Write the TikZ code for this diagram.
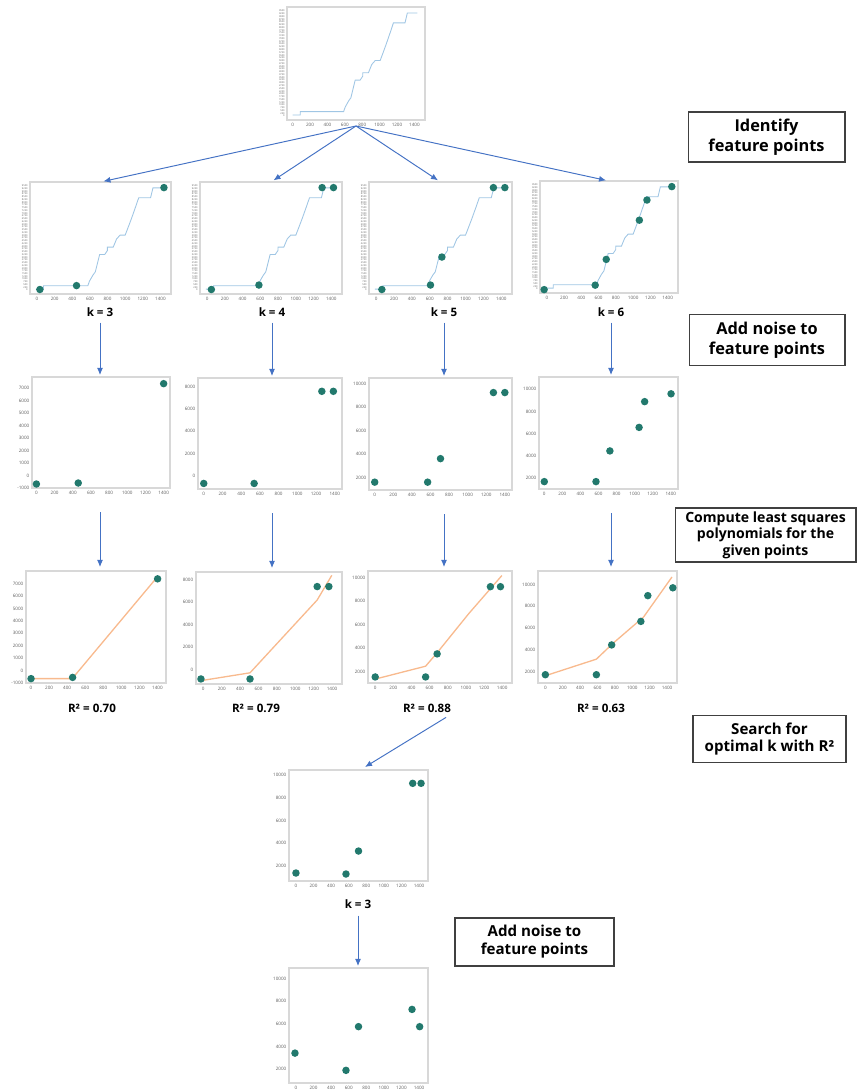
\documentclass[tikz,border=0pt]{standalone}
\usepackage{fontspec}
\setmainfont{Open Sans}
\usepackage{xcolor}
\usepackage{tikz}
\usetikzlibrary{arrows.meta}

\definecolor{arrowblue}{RGB}{68,114,196}
\definecolor{dotgreen}{RGB}{34,121,109}
\definecolor{stepblue}{RGB}{160,198,228}
\definecolor{fitorange}{RGB}{248,186,142}
\definecolor{framegray}{RGB}{216,216,216}
\definecolor{tickgray}{RGB}{95,95,95}
\definecolor{boxgray}{RGB}{64,64,64}

\tikzset{inplot/.style n args={4}{shift={(#1,#4)}, xscale=#3-#1, yscale=#2-#4}}

\begin{document}
\begin{tikzpicture}[x=0.02cm, y=-0.02cm]
        \tikzstyle{frame}=[draw=framegray, line width=0.9pt, inner sep=0pt, outer sep=0pt]
        \tikzstyle{dot}=[circle, fill=dotgreen, inner sep=0pt, minimum size=0.15cm]
        \tikzstyle{stepline}=[draw=stepblue, line width=0.5pt]
        \tikzstyle{fitline}=[draw=fitorange, line width=0.75pt]
        \tikzstyle{tick}=[inner sep=0.4pt, text=tickgray, font=\fontsize{2.6}{3}\selectfont]
        \tikzstyle{fine}=[inner sep=0.2pt, text=tickgray, font=\fontsize{1.4}{1.5}\selectfont]
        \tikzstyle{caption}=[inner sep=1pt, font=\bfseries\fontsize{6.6}{8}\selectfont]
        \tikzstyle{stage}=[draw=boxgray, line width=0.6pt, align=center, inner sep=0pt]
        \tikzstyle{arr}=[arrowblue, line width=0.55pt, -{Latex[length=4pt, width=3.4pt]}]

        \def\stepcurve{(0.041,0.044) -- (0.096,0.044) -- (0.096,0.074) -- (0.410,0.074)
            -- (0.422,0.115) -- (0.446,0.168) -- (0.463,0.197) -- (0.494,0.353)
            -- (0.530,0.353) -- (0.549,0.388) -- (0.549,0.418) -- (0.590,0.418)
            -- (0.614,0.491) -- (0.639,0.526) -- (0.675,0.526) -- (0.687,0.565)
            -- (0.718,0.668) -- (0.747,0.771) -- (0.771,0.859) -- (0.855,0.859)
            -- (0.872,0.947) -- (0.945,0.947)}
        \def\plotframe#1#2#3#4#5{\node[frame, anchor=north west, minimum width={(#4-#2)*0.02cm}, minimum height={(#5-#3)*0.02cm}] (#1) at (#2,#3) {};}
        \def\xticks#1#2#3{\foreach \i in {0,...,7} {\pgfmathtruncatemacro\lab{\i*200}
            \node[tick, anchor=north] (#1x\i) at ({#2+\i*#3},-0.02) {\lab};}}
        \def\yticks#1#2#3#4#5#6{\foreach \i in {0,...,#4} {\pgfmathtruncatemacro\lab{#2+\i*#3}
            \node[tick, anchor=east] (#1y\i) at (-0.012,{#5+\i*#6}) {\lab};}}
        \def\stepticks#1{\foreach \i in {0,...,38} {\pgfmathtruncatemacro\lab{\i*250}
            \node[fine, anchor=east] (#1y\i) at (-0.012,{0.035+\i*0.0245}) {\lab};}}

        \useasboundingbox (0,0) rectangle (858,1091);

        % Source curve
        \plotframe{top}{287}{7}{425}{120}
        \begin{scope}[inplot={287}{7}{425}{120}]
            \draw[stepline] \stepcurve;
            \stepticks{top}
            \xticks{top}{0.041}{0.126}
        \end{scope}

        % Feature points
        \plotframe{feat3}{30}{182}{171}{294}
        \begin{scope}[inplot={30}{182}{171}{294}]
            \draw[stepline] \stepcurve;
            \stepticks{feat3}
            \xticks{feat3}{0.05}{0.125}
            \foreach \u/\v [count=\n] in {0.07/0.04, 0.33/0.075, 0.95/0.95}
                \node[dot] (feat3d\n) at (\u,\v) {};
        \end{scope}
        \plotframe{feat4}{200}{182}{342}{294}
        \begin{scope}[inplot={200}{182}{342}{294}]
            \draw[stepline] \stepcurve;
            \stepticks{feat4}
            \xticks{feat4}{0.05}{0.125}
            \foreach \u/\v [count=\n] in {0.08/0.04, 0.415/0.08, 0.86/0.95, 0.94/0.95}
                \node[dot] (feat4d\n) at (\u,\v) {};
        \end{scope}
        \plotframe{feat5}{369}{182}{512}{294}
        \begin{scope}[inplot={369}{182}{512}{294}]
            \draw[stepline] \stepcurve;
            \stepticks{feat5}
            \xticks{feat5}{0.05}{0.125}
            \foreach \u/\v [count=\n] in {0.09/0.04, 0.43/0.08, 0.51/0.33, 0.87/0.95, 0.95/0.95}
                \node[dot] (feat5d\n) at (\u,\v) {};
        \end{scope}
        \plotframe{feat6}{540}{181}{678}{293}
        \begin{scope}[inplot={540}{181}{678}{293}]
            \draw[stepline] \stepcurve;
            \stepticks{feat6}
            \xticks{feat6}{0.05}{0.125}
            \foreach \u/\v [count=\n] in {0.03/0.03, 0.40/0.07, 0.48/0.30, 0.72/0.65, 0.775/0.83, 0.955/0.95}
                \node[dot] (feat6d\n) at (\u,\v) {};
        \end{scope}

        \node[caption] (k3) at (100,312) {k = 3};
        \node[caption] (k4) at (272,312) {k = 4};
        \node[caption] (k5) at (444,312) {k = 5};
        \node[caption] (k6) at (611,312) {k = 6};

        % Noisy points
        \plotframe{noise3}{32}{377}{170}{488}
        \begin{scope}[inplot={32}{377}{170}{488}]
            \yticks{noise3}{-1000}{1000}{8}{0}{0.1125}
            \xticks{noise3}{0.032}{0.1317}
            \foreach \u/\v [count=\n] in {0.032/0.036, 0.335/0.045, 0.954/0.94}
                \node[dot] (noise3d\n) at (\u,\v) {};
        \end{scope}
        \plotframe{noise4}{198}{378}{342}{489}
        \begin{scope}[inplot={198}{378}{342}{489}]
            \yticks{noise4}{0}{2000}{4}{0.12}{0.2}
            \xticks{noise4}{0.04}{0.13}
            \foreach \u/\v [count=\n] in {0.04/0.05, 0.39/0.05, 0.86/0.88, 0.94/0.88}
                \node[dot] (noise4d\n) at (\u,\v) {};
        \end{scope}
        \plotframe{noise5}{369}{378}{512}{490}
        \begin{scope}[inplot={369}{378}{512}{490}]
            \yticks{noise5}{2000}{2000}{4}{0.11}{0.21}
            \xticks{noise5}{0.04}{0.13}
            \foreach \u/\v [count=\n] in {0.04/0.07, 0.41/0.07, 0.50/0.28, 0.87/0.87, 0.95/0.87}
                \node[dot] (noise5d\n) at (\u,\v) {};
        \end{scope}
        \plotframe{noise6}{539}{377}{678}{489}
        \begin{scope}[inplot={539}{377}{678}{489}]
            \yticks{noise6}{2000}{2000}{4}{0.10}{0.1975}
            \xticks{noise6}{0.038}{0.13}
            \foreach \u/\v [count=\n] in {0.038/0.066, 0.41/0.066, 0.51/0.34, 0.72/0.55, 0.76/0.78, 0.95/0.85}
                \node[dot] (noise6d\n) at (\u,\v) {};
        \end{scope}

        % Least squares fits
        \plotframe{fit3}{26}{571}{166}{683}
        \begin{scope}[inplot={26}{571}{166}{683}]
            \draw[fitline] (0.036,0.039) -- (0.33,0.039) -- (0.94,0.95);
            \yticks{fit3}{-1000}{1000}{8}{0}{0.111}
            \xticks{fit3}{0.036}{0.129}
            \foreach \u/\v [count=\n] in {0.036/0.039, 0.333/0.05, 0.94/0.93}
                \node[dot] (fit3d\n) at (\u,\v) {};
        \end{scope}
        \plotframe{fit4}{196}{572}{342}{684}
        \begin{scope}[inplot={196}{572}{342}{684}]
            \draw[fitline] (0.034,0.03) -- (0.37,0.10) -- (0.83,0.75) -- (0.93,0.97);
            \yticks{fit4}{0}{2000}{4}{0.13}{0.2}
            \xticks{fit4}{0.05}{0.126}
            \foreach \u/\v [count=\n] in {0.034/0.045, 0.37/0.045, 0.83/0.87, 0.91/0.87}
                \node[dot] (fit4d\n) at (\u,\v) {};
        \end{scope}
        \plotframe{fit5}{368}{571}{512}{683}
        \begin{scope}[inplot={368}{571}{512}{683}]
            \draw[fitline] (0.05,0.035) -- (0.40,0.15) -- (0.48,0.27) -- (0.70,0.62) -- (0.93,0.96);
            \yticks{fit5}{2000}{2000}{4}{0.10}{0.21}
            \xticks{fit5}{0.05}{0.126}
            \foreach \u/\v [count=\n] in {0.05/0.054, 0.40/0.054, 0.48/0.26, 0.85/0.86, 0.92/0.86}
                \node[dot] (fit5d\n) at (\u,\v) {};
        \end{scope}
        \plotframe{fit6}{538}{571}{677}{683}
        \begin{scope}[inplot={538}{571}{677}{683}]
            \draw[fitline] (0.053,0.065) -- (0.42,0.213) -- (0.54,0.355) -- (0.76,0.59) -- (0.964,0.947);
            \yticks{fit6}{2000}{2000}{4}{0.10}{0.195}
            \xticks{fit6}{0.053}{0.125}
            \foreach \u/\v [count=\n] in {0.053/0.074, 0.42/0.074, 0.53/0.34, 0.74/0.55, 0.79/0.78, 0.97/0.85}
                \node[dot] (fit6d\n) at (\u,\v) {};
        \end{scope}

        \node[caption] (r3) at (92,708) {R² = 0.70};
        \node[caption] (r4) at (256,708) {R² = 0.79};
        \node[caption] (r5) at (427,708) {R² = 0.88};
        \node[caption] (r6) at (601,708) {R² = 0.63};

        % Chosen k
        \plotframe{pick}{289}{770}{428}{881}
        \begin{scope}[inplot={289}{770}{428}{881}]
            \yticks{pick}{2000}{2000}{4}{0.135}{0.205}
            \xticks{pick}{0.05}{0.1265}
            \foreach \u/\v [count=\n] in {0.05/0.072, 0.41/0.063, 0.50/0.27, 0.89/0.88, 0.95/0.88}
                \node[dot] (pickd\n) at (\u,\v) {};
        \end{scope}
        \node[caption] (pickk) at (358,904) {k = 3};

        % Final noise
        \plotframe{final}{289}{968}{428}{1083}
        \begin{scope}[inplot={289}{968}{428}{1083}]
            \yticks{final}{2000}{2000}{4}{0.12}{0.197}
            \xticks{final}{0.05}{0.1265}
            \foreach \u/\v [count=\n] in {0.043/0.26, 0.41/0.11, 0.50/0.49, 0.885/0.64, 0.94/0.49}
                \node[dot] (finald\n) at (\u,\v) {};
        \end{scope}

        % Steps
        \node[stage, minimum width=3.14cm, minimum height=1cm, font=\bfseries\fontsize{9.3}{11.4}\selectfont] (idbox) at (766.5,137) {Identify\\feature points};
        \node[stage, minimum width=3.12cm, minimum height=1.02cm, font=\bfseries\fontsize{9.3}{11.4}\selectfont] (noisebox) at (767,340) {Add noise to\\feature points};
        \node[stage, minimum width=3.62cm, minimum height=1.08cm, font=\bfseries\fontsize{8}{9.4}\selectfont] (lsqbox) at (765.5,535) {Compute least squares\\polynomials for the\\given points};
        \node[stage, minimum width=3.06cm, minimum height=0.94cm, font=\bfseries\fontsize{8.6}{10.2}\selectfont] (searchbox) at (769.5,739) {Search for\\optimal k with R²};
        \node[stage, minimum width=3.18cm, minimum height=0.96cm, font=\bfseries\fontsize{8.6}{10.2}\selectfont] (noisebox2) at (534.5,942) {Add noise to\\feature points};

        % Arrows
        \coordinate (split) at ([yshift=-0.12cm]top.south);
        \foreach \k in {3,...,6}
        \draw[arr, shorten >=0.06cm] (split) -- (feat\k.north);

        \foreach \k in {3,...,6}
        \draw[arr, shorten <=0.08cm, shorten >=0.04cm] (k\k.south) -- (k\k.south |- noise\k.north);

        \foreach \k in {3,...,6}
        \draw[arr, shorten <=0.48cm, shorten >=0.08cm] (k\k |- noise\k.south) -- (k\k |- fit\k.north);

        \draw[arr] ([xshift=-0.14cm, yshift=-0.06cm]r5.south east) -- ([xshift=0.13cm, yshift=0.06cm]pick.north);
        \draw[arr, shorten <=0.1cm, shorten >=0.04cm] (pickk.south) -- (pickk.south |- final.north);

\end{tikzpicture}
\end{document}
